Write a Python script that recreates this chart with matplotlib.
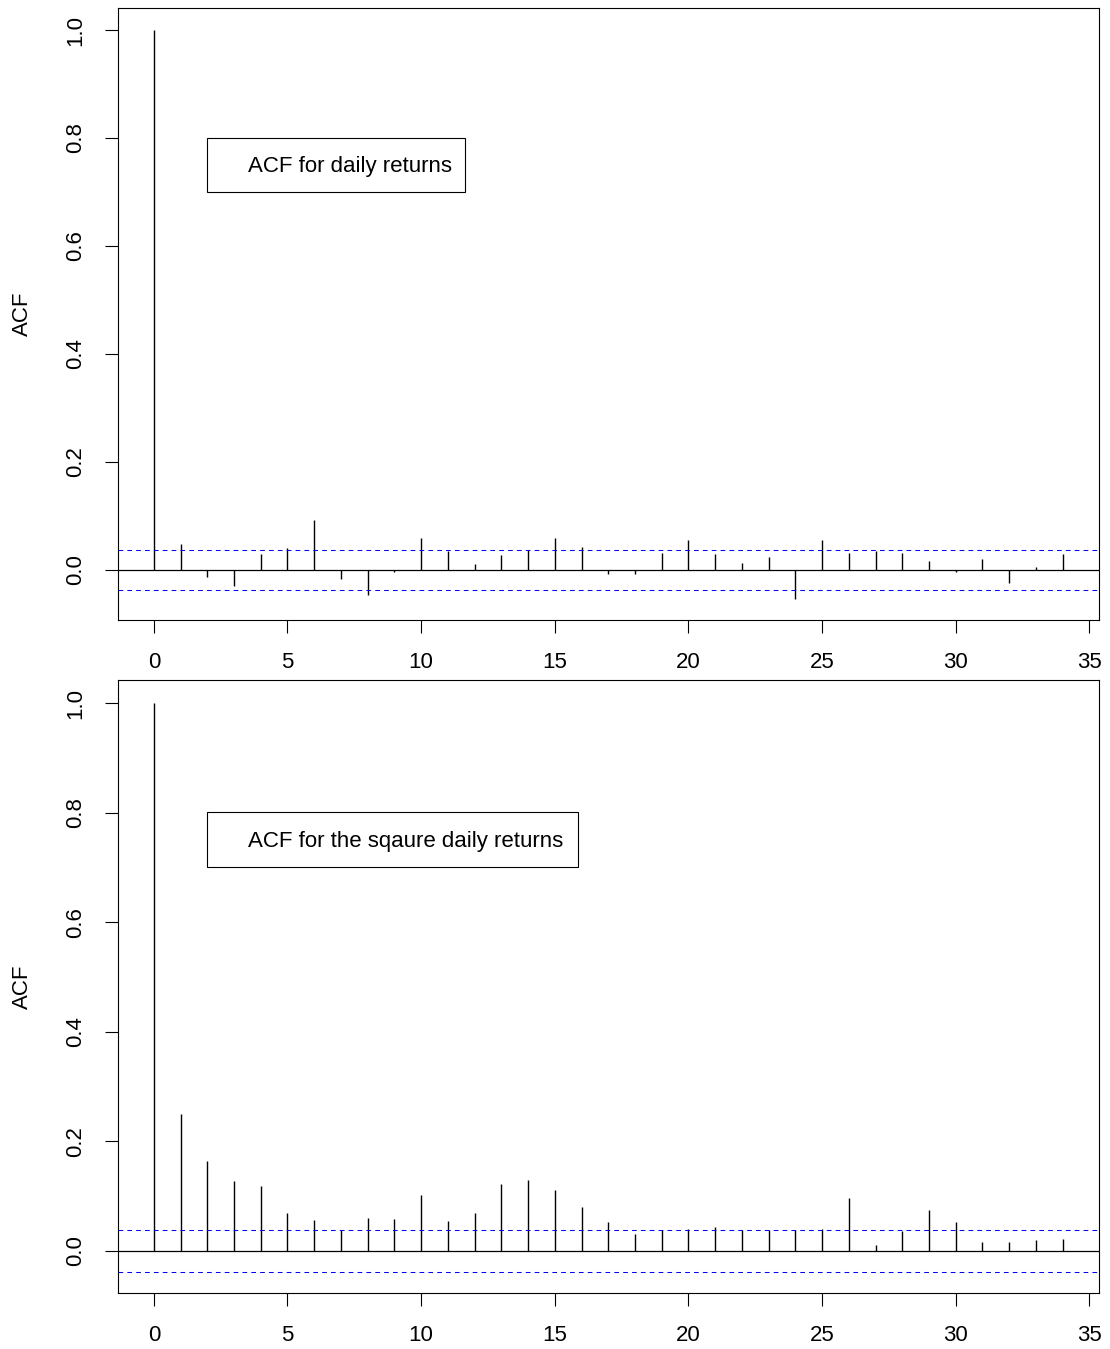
import numpy as np
import matplotlib
matplotlib.use("Agg")
import matplotlib.pyplot as plt
from matplotlib.patches import Rectangle

plt.rcParams['font.family'] = ['Liberation Sans', 'DejaVu Sans']

lags = list(range(35))
acf_returns = [1.0, 0.048, -0.014, -0.030, 0.029, 0.040, 0.092, -0.017, -0.047, -0.005,
               0.059, 0.034, 0.010, 0.027, 0.037, 0.059, 0.043, -0.008, -0.007, 0.032,
               0.055, 0.029, 0.012, 0.024, -0.055, 0.056, 0.031, 0.034, 0.031, 0.017,
               -0.004, 0.020, -0.024, 0.006, 0.029]
acf_squared = [1.0, 0.251, 0.164, 0.128, 0.119, 0.069, 0.057, 0.039, 0.061, 0.058,
               0.102, 0.055, 0.069, 0.123, 0.130, 0.111, 0.081, 0.052, 0.031, 0.038,
               0.041, 0.044, 0.038, 0.038, 0.038, 0.041, 0.097, 0.010, 0.037, 0.075,
               0.053, 0.016, 0.017, 0.020, 0.022]
ci = 0.0375
xticks = [0, 5, 10, 15, 20, 25, 30, 35]
yticks = [0.0, 0.2, 0.4, 0.6, 0.8, 1.0]
titles = ["ACF for daily returns", "ACF for the sqaure daily returns"]

W, H = 1110, 1349
fig = plt.figure(figsize=(W / 100, H / 100), dpi=100)

axes_px = [(117.5, 8, 1099, 620.3), (117.5, 680, 1099, 1293.3)]
ylims = [(-0.0936, 1.0408), (-0.0773, 1.0426)]
legend_boxes = [(0.0909, 0.700, 0.354, 0.787), (0.0915, 0.6956, 0.4692, 0.7843)]
legend_text_pos = [(0.1334, 0.7405), (0.1334, 0.7370)]

FS = 16

for i, vals in enumerate([acf_returns, acf_squared]):
    l, t, r, b = axes_px[i]
    ax = fig.add_axes([l / W, 1 - b / H, (r - l) / W, (b - t) / H])
    ax.vlines(lags, 0, vals, color='black', lw=1.0)
    ax.axhline(0, color='black', lw=0.9)
    ax.axhline(ci, color='blue', lw=0.75, ls=(0, (4.5, 4)))
    ax.axhline(-ci, color='blue', lw=0.75, ls=(0, (4.5, 4)))
    ax.set_xlim(-1.36, 35.36)
    ax.set_ylim(*ylims[i])
    ax.set_xticks(xticks)
    ax.set_xticklabels([str(v) for v in xticks])
    ax.set_yticks(yticks)
    ax.set_yticklabels([f"{v:.1f}" for v in yticks], rotation=90, va='center')
    ax.tick_params(axis='both', length=9.5, width=0.8, labelsize=FS, color='black')
    ax.tick_params(axis='x', pad=13)
    ax.tick_params(axis='y', pad=13)
    for s in ax.spines.values():
        s.set_linewidth(0.8)
        s.set_color('black')
    ax.set_ylabel("ACF", fontsize=FS)
    ax.yaxis.set_label_coords(-0.086, 0.5)
    x0, y0, x1, y1 = legend_boxes[i]
    ax.add_patch(Rectangle((x0, y0), x1 - x0, y1 - y0, transform=ax.transAxes,
                           facecolor='white', edgecolor='black', lw=0.8, zorder=5))
    tx, ty = legend_text_pos[i]
    ax.text(tx, ty, titles[i], transform=ax.transAxes, fontsize=FS,
            va='center', ha='left', zorder=6)

fig.savefig("out.png", dpi=100)
